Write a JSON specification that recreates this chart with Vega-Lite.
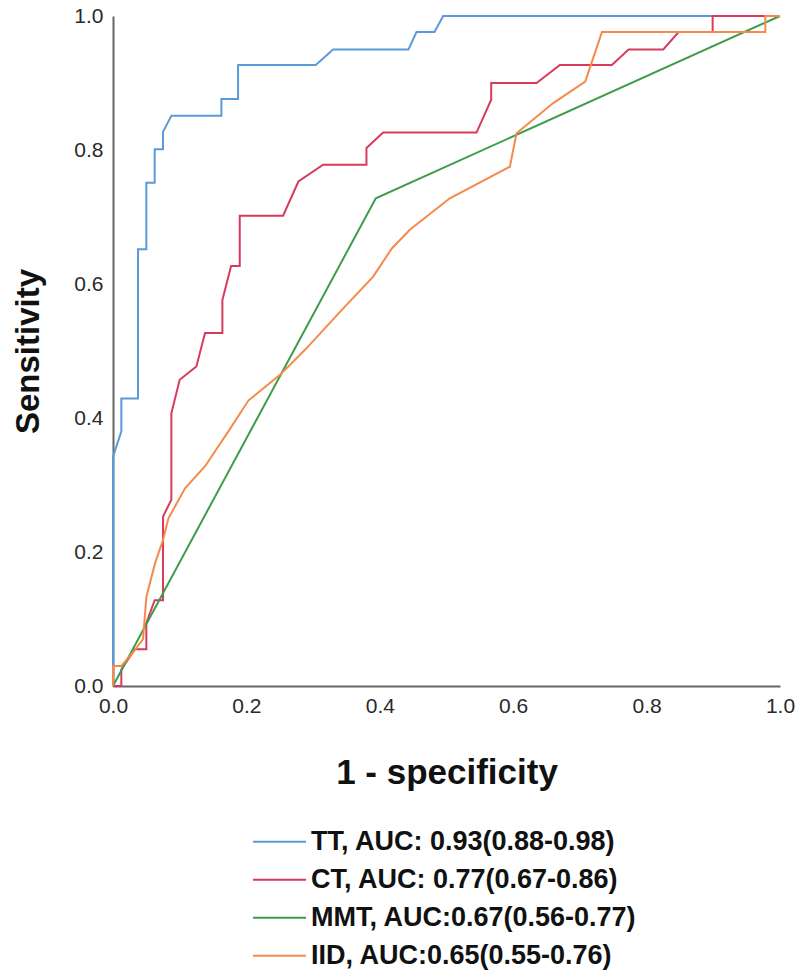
{
  "$schema": "https://vega.github.io/schema/vega-lite/v6.json",
  "width": 667,
  "height": 670,
  "autosize": "none",
  "padding": {"left": 113, "top": 16, "right": 20, "bottom": 293},
  "background": "white",
  "config": {"view": {"stroke": null}},
  "data": {"values": [
    {"s":"TT","fpr":0,"tpr":0},{"s":"TT","fpr":0,"tpr":0.342},{"s":"TT","fpr":0.0125,"tpr":0.38},{"s":"TT","fpr":0.0125,"tpr":0.429},{"s":"TT","fpr":0.0375,"tpr":0.429},{"s":"TT","fpr":0.0375,"tpr":0.652},{"s":"TT","fpr":0.05,"tpr":0.652},{"s":"TT","fpr":0.05,"tpr":0.751},{"s":"TT","fpr":0.0625,"tpr":0.751},{"s":"TT","fpr":0.0625,"tpr":0.801},{"s":"TT","fpr":0.075,"tpr":0.801},{"s":"TT","fpr":0.075,"tpr":0.827},{"s":"TT","fpr":0.0875,"tpr":0.851},{"s":"TT","fpr":0.1625,"tpr":0.851},{"s":"TT","fpr":0.1625,"tpr":0.876},{"s":"TT","fpr":0.1875,"tpr":0.876},{"s":"TT","fpr":0.1875,"tpr":0.927},{"s":"TT","fpr":0.304,"tpr":0.927},{"s":"TT","fpr":0.33,"tpr":0.95},{"s":"TT","fpr":0.443,"tpr":0.95},{"s":"TT","fpr":0.455,"tpr":0.976},{"s":"TT","fpr":0.482,"tpr":0.976},{"s":"TT","fpr":0.495,"tpr":1},{"s":"TT","fpr":1,"tpr":1},
    {"s":"CT","fpr":0,"tpr":0},{"s":"CT","fpr":0.0125,"tpr":0},{"s":"CT","fpr":0.0125,"tpr":0.025},{"s":"CT","fpr":0.033,"tpr":0.055},{"s":"CT","fpr":0.05,"tpr":0.055},{"s":"CT","fpr":0.05,"tpr":0.094},{"s":"CT","fpr":0.0625,"tpr":0.128},{"s":"CT","fpr":0.075,"tpr":0.128},{"s":"CT","fpr":0.075,"tpr":0.253},{"s":"CT","fpr":0.0875,"tpr":0.278},{"s":"CT","fpr":0.0875,"tpr":0.407},{"s":"CT","fpr":0.1,"tpr":0.457},{"s":"CT","fpr":0.125,"tpr":0.477},{"s":"CT","fpr":0.138,"tpr":0.527},{"s":"CT","fpr":0.164,"tpr":0.527},{"s":"CT","fpr":0.164,"tpr":0.576},{"s":"CT","fpr":0.177,"tpr":0.627},{"s":"CT","fpr":0.19,"tpr":0.627},{"s":"CT","fpr":0.19,"tpr":0.702},{"s":"CT","fpr":0.255,"tpr":0.702},{"s":"CT","fpr":0.278,"tpr":0.753},{"s":"CT","fpr":0.315,"tpr":0.778},{"s":"CT","fpr":0.38,"tpr":0.778},{"s":"CT","fpr":0.38,"tpr":0.803},{"s":"CT","fpr":0.405,"tpr":0.826},{"s":"CT","fpr":0.545,"tpr":0.826},{"s":"CT","fpr":0.567,"tpr":0.875},{"s":"CT","fpr":0.567,"tpr":0.9},{"s":"CT","fpr":0.635,"tpr":0.9},{"s":"CT","fpr":0.67,"tpr":0.927},{"s":"CT","fpr":0.748,"tpr":0.927},{"s":"CT","fpr":0.773,"tpr":0.95},{"s":"CT","fpr":0.825,"tpr":0.95},{"s":"CT","fpr":0.848,"tpr":0.976},{"s":"CT","fpr":0.899,"tpr":0.976},{"s":"CT","fpr":0.899,"tpr":1},{"s":"CT","fpr":1,"tpr":1},
    {"s":"MMT","fpr":0,"tpr":0},{"s":"MMT","fpr":0.394,"tpr":0.728},{"s":"MMT","fpr":1,"tpr":1},
    {"s":"IID","fpr":0,"tpr":0},{"s":"IID","fpr":0,"tpr":0.03},{"s":"IID","fpr":0.0125,"tpr":0.03},{"s":"IID","fpr":0.033,"tpr":0.054},{"s":"IID","fpr":0.045,"tpr":0.07},{"s":"IID","fpr":0.05,"tpr":0.133},{"s":"IID","fpr":0.063,"tpr":0.183},{"s":"IID","fpr":0.075,"tpr":0.218},{"s":"IID","fpr":0.083,"tpr":0.25},{"s":"IID","fpr":0.108,"tpr":0.295},{"s":"IID","fpr":0.138,"tpr":0.328},{"s":"IID","fpr":0.173,"tpr":0.38},{"s":"IID","fpr":0.203,"tpr":0.426},{"s":"IID","fpr":0.25,"tpr":0.464},{"s":"IID","fpr":0.29,"tpr":0.504},{"s":"IID","fpr":0.34,"tpr":0.558},{"s":"IID","fpr":0.39,"tpr":0.611},{"s":"IID","fpr":0.418,"tpr":0.653},{"s":"IID","fpr":0.445,"tpr":0.681},{"s":"IID","fpr":0.505,"tpr":0.728},{"s":"IID","fpr":0.595,"tpr":0.775},{"s":"IID","fpr":0.605,"tpr":0.825},{"s":"IID","fpr":0.66,"tpr":0.87},{"s":"IID","fpr":0.708,"tpr":0.902},{"s":"IID","fpr":0.733,"tpr":0.976},{"s":"IID","fpr":0.978,"tpr":0.976},{"s":"IID","fpr":0.978,"tpr":1},{"s":"IID","fpr":1,"tpr":1}
  ]},
  "mark": {"type": "line", "strokeWidth": 2, "clip": false},
  "encoding": {
    "x": {"field": "fpr", "type": "quantitative", "scale": {"domain": [0, 1], "nice": false, "zero": false},
      "axis": {"title": "1 - specificity", "values": [0, 0.2, 0.4, 0.6, 0.8, 1.0], "format": ".1f", "grid": false, "ticks": false,
        "domainColor": "#666666", "domainWidth": 2, "labelColor": "#2a2a2a", "labelFont": "Liberation Sans", "labelFontSize": 21, "labelPadding": 9, "labelFlush": false,
        "titleFont": "Liberation Sans", "titleFontSize": 35, "titleFontWeight": "bold", "titleColor": "#111111", "titleY": 86, "titleBaseline": "middle"}},
    "y": {"field": "tpr", "type": "quantitative", "scale": {"domain": [0, 1], "nice": false, "zero": false},
      "axis": {"title": "Sensitivity", "values": [0, 0.2, 0.4, 0.6, 0.8, 1.0], "format": ".1f", "grid": false, "ticks": false,
        "domainColor": "#666666", "domainWidth": 2, "labelColor": "#2a2a2a", "labelFont": "Liberation Sans", "labelFontSize": 21, "labelPadding": 10, "labelFlush": false,
        "titleFont": "Liberation Sans", "titleFontSize": 33, "titleFontWeight": "bold", "titleColor": "#111111", "titleX": -85, "titleY": 335, "titleAngle": -90, "titleAlign": "center", "titleBaseline": "middle"}},
    "color": {"field": "s", "type": "nominal",
      "scale": {"domain": ["TT", "CT", "MMT", "IID"], "range": ["#5b9ad8", "#d83a5e", "#3f9c4c", "#f58a4c"]},
      "legend": {"orient": "none", "legendX": 139, "legendY": 807, "title": null, "symbolType": "stroke", "symbolSize": 2809, "symbolStrokeWidth": 2,
        "labelFont": "Liberation Sans", "labelFontSize": 27, "labelFontWeight": "bold", "labelColor": "#111111", "labelLimit": 700, "rowPadding": 0, "clipHeight": 37.5, "labelOffset": 4,
        "labelExpr": "datum.label == 'TT' ? 'TT, AUC: 0.93(0.88-0.98)' : datum.label == 'CT' ? 'CT, AUC: 0.77(0.67-0.86)' : datum.label == 'MMT' ? 'MMT, AUC:0.67(0.56-0.77)' : 'IID, AUC:0.65(0.55-0.76)'"}},
    "order": {"value": null}
  }
}
